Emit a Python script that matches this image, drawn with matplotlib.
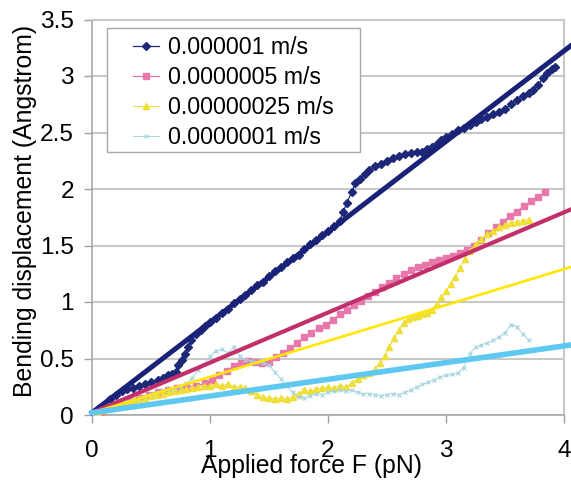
import matplotlib
matplotlib.use("Agg")
import matplotlib.pyplot as plt
from matplotlib.patches import Rectangle

plt.rcParams['font.family'] = ['Liberation Sans', 'DejaVu Sans']

# series labels
labels = ["0.000001 m/s", "0.0000005 m/s", "0.00000025 m/s", "0.0000001 m/s"]

# 0.000001 m/s (navy diamonds)
navy_x = [0.00, 0.05, 0.10, 0.15, 0.20, 0.25, 0.30, 0.35, 0.40, 0.45, 0.50, 0.56,
          0.60, 0.64, 0.68, 0.71, 0.73, 0.76, 0.79, 0.81, 0.84, 0.88, 0.92, 0.96,
          1.00, 1.05, 1.10, 1.15, 1.20, 1.25, 1.30, 1.35, 1.40, 1.45, 1.50, 1.55,
          1.60, 1.65, 1.70, 1.75, 1.80, 1.85, 1.90, 1.95, 2.00, 2.05, 2.10, 2.13,
          2.16, 2.20, 2.23, 2.27, 2.31, 2.35, 2.40, 2.45, 2.50, 2.55, 2.60, 2.65,
          2.70, 2.75, 2.80, 2.84, 2.88, 2.92, 2.96, 3.00, 3.05, 3.10, 3.15, 3.20,
          3.25, 3.30, 3.35, 3.40, 3.45, 3.50, 3.55, 3.60, 3.65, 3.70, 3.74, 3.78,
          3.82, 3.86, 3.90, 3.92]
navy_y = [0.00, 0.05, 0.09, 0.14, 0.18, 0.21, 0.23, 0.24, 0.26, 0.27, 0.29, 0.31,
          0.33, 0.35, 0.36, 0.38, 0.44, 0.49, 0.54, 0.60, 0.66, 0.72, 0.75, 0.79,
          0.82, 0.86, 0.90, 0.94, 0.99, 1.03, 1.06, 1.11, 1.15, 1.18, 1.23, 1.27,
          1.31, 1.35, 1.39, 1.42, 1.47, 1.51, 1.55, 1.59, 1.63, 1.67, 1.72, 1.80,
          1.88, 1.97, 2.05, 2.09, 2.13, 2.17, 2.20, 2.22, 2.25, 2.27, 2.29, 2.31,
          2.32, 2.33, 2.33, 2.35, 2.37, 2.40, 2.43, 2.46, 2.49, 2.52, 2.54, 2.57,
          2.59, 2.62, 2.64, 2.66, 2.68, 2.71, 2.75, 2.79, 2.82, 2.85, 2.88, 2.92,
          2.98, 3.03, 3.06, 3.08]

# 0.0000005 m/s (pink squares)
pink_x = [0.00, 0.08, 0.16, 0.24, 0.32, 0.40, 0.48, 0.56, 0.64, 0.72, 0.80, 0.88,
          0.96, 1.02, 1.08, 1.14, 1.20, 1.26, 1.32, 1.38, 1.44, 1.50, 1.56, 1.62,
          1.68, 1.74, 1.80, 1.86, 1.92, 1.98, 2.04, 2.10, 2.16, 2.22, 2.28, 2.34,
          2.40, 2.46, 2.52, 2.58, 2.64, 2.70, 2.76, 2.82, 2.88, 2.94, 3.00, 3.06,
          3.12, 3.18, 3.24, 3.30, 3.36, 3.42, 3.48, 3.54, 3.60, 3.66, 3.72, 3.78,
          3.84]
pink_y = [0.00, 0.03, 0.06, 0.09, 0.12, 0.15, 0.18, 0.20, 0.22, 0.24, 0.25, 0.26,
          0.28, 0.31, 0.35, 0.39, 0.43, 0.46, 0.48, 0.47, 0.46, 0.47, 0.51, 0.55,
          0.59, 0.64, 0.69, 0.73, 0.77, 0.80, 0.84, 0.89, 0.93, 0.97, 1.01, 1.05,
          1.09, 1.13, 1.17, 1.21, 1.25, 1.28, 1.31, 1.33, 1.35, 1.37, 1.39, 1.41,
          1.43, 1.46, 1.50, 1.55, 1.61, 1.66, 1.71, 1.76, 1.80, 1.85, 1.89, 1.93,
          1.97]

# 0.00000025 m/s (yellow triangles)
yellow_x = [0.00, 0.05, 0.10, 0.15, 0.20, 0.25, 0.30, 0.35, 0.40, 0.45, 0.50, 0.55,
            0.60, 0.65, 0.70, 0.75, 0.80, 0.85, 0.90, 0.95, 1.00, 1.05, 1.10, 1.15,
            1.20, 1.25, 1.30, 1.35, 1.40, 1.45, 1.50, 1.55, 1.60, 1.65, 1.70, 1.75,
            1.80, 1.85, 1.90, 1.95, 2.00, 2.05, 2.10, 2.15, 2.20, 2.25, 2.30, 2.35,
            2.40, 2.44, 2.48, 2.52, 2.56, 2.60, 2.64, 2.68, 2.72, 2.76, 2.80, 2.84,
            2.88, 2.92, 2.96, 3.00, 3.04, 3.08, 3.12, 3.16, 3.20, 3.25, 3.30, 3.35,
            3.40, 3.45, 3.50, 3.55, 3.60, 3.65, 3.70]
yellow_y = [0.00, 0.02, 0.04, 0.06, 0.08, 0.10, 0.11, 0.13, 0.14, 0.15, 0.17, 0.18,
            0.19, 0.20, 0.21, 0.22, 0.23, 0.24, 0.25, 0.26, 0.26, 0.27, 0.26, 0.27,
            0.25, 0.25, 0.24, 0.21, 0.18, 0.16, 0.15, 0.14, 0.15, 0.14, 0.16, 0.19,
            0.22, 0.21, 0.23, 0.24, 0.25, 0.24, 0.26, 0.25, 0.28, 0.32, 0.35, 0.37,
            0.41, 0.46, 0.52, 0.60, 0.68, 0.75, 0.81, 0.85, 0.87, 0.88, 0.89, 0.90,
            0.93, 0.98, 1.04, 1.10, 1.16, 1.22, 1.30, 1.38, 1.45, 1.51, 1.56, 1.60,
            1.63, 1.66, 1.68, 1.70, 1.71, 1.72, 1.73]

# 0.0000001 m/s (light blue crosses)
cyan_x = [0.00, 0.05, 0.10, 0.15, 0.20, 0.25, 0.30, 0.35, 0.40, 0.45, 0.50, 0.55,
          0.60, 0.65, 0.70, 0.75, 0.80, 0.85, 0.90, 0.95, 1.00, 1.05, 1.10, 1.15,
          1.20, 1.25, 1.30, 1.35, 1.40, 1.45, 1.50, 1.55, 1.60, 1.65, 1.70, 1.75,
          1.80, 1.85, 1.90, 1.95, 2.00, 2.05, 2.10, 2.15, 2.20, 2.25, 2.30, 2.35,
          2.40, 2.45, 2.50, 2.55, 2.60, 2.65, 2.70, 2.75, 2.80, 2.85, 2.90, 2.95,
          3.00, 3.05, 3.10, 3.15, 3.20, 3.25, 3.30, 3.35, 3.40, 3.45, 3.50, 3.55,
          3.60, 3.65, 3.70]
cyan_y = [0.00, 0.02, 0.04, 0.06, 0.08, 0.10, 0.12, 0.14, 0.15, 0.17, 0.19, 0.20,
          0.22, 0.23, 0.24, 0.26, 0.28, 0.33, 0.40, 0.45, 0.52, 0.57, 0.58, 0.55,
          0.60, 0.52, 0.49, 0.48, 0.47, 0.46, 0.44, 0.38, 0.32, 0.26, 0.20, 0.16,
          0.15, 0.17, 0.19, 0.18, 0.20, 0.21, 0.22, 0.21, 0.22, 0.20, 0.19, 0.19,
          0.18, 0.17, 0.18, 0.19, 0.18, 0.20, 0.22, 0.25, 0.27, 0.29, 0.31, 0.34,
          0.35, 0.36, 0.37, 0.42, 0.54, 0.60, 0.62, 0.64, 0.66, 0.69, 0.73, 0.80,
          0.78, 0.72, 0.66]

# linear trendlines (start and end values)
fit_x = [0.0, 4.06]
navy_fit = [0.02, 3.27]
pink_fit = [0.02, 1.82]
yellow_fit = [0.02, 1.31]
cyan_fit = [0.02, 0.62]

y_ticks = [0, 0.5, 1, 1.5, 2, 2.5, 3, 3.5]
y_ticklabels = ["0", "0.5", "1", "1.5", "2", "2.5", "3", "3.5"]
x_ticks = [0, 1, 2, 3, 4]

fig = plt.figure(figsize=(5.71, 4.82), dpi=100)
ax = fig.add_axes([92 / 571, 1 - 415 / 482, 472 / 571, 395.5 / 482])

h1, = ax.plot(navy_x, navy_y, color='#1e2878', lw=0.9, marker='D', ms=3.6,
              mec='#1e2878', mfc='#1e2878', label=labels[0], zorder=3)
h2, = ax.plot(pink_x, pink_y, color='#e070a6', lw=0.8, marker='s', ms=4.8,
              mec='#e878ac', mfc='#e878ac', label=labels[1], zorder=3)
h3, = ax.plot(yellow_x, yellow_y, color='#f0e040', lw=0.8, marker='^', ms=4.4,
              mec='#eedc30', mfc='#f2e23a', label=labels[2], zorder=3)
h4, = ax.plot(cyan_x, cyan_y, color='#a8d8e2', lw=0.7, marker='x', ms=3.5,
              mew=0.8, mec='#a0d4e0', label=labels[3], zorder=3)

ax.plot(fit_x, navy_fit, color='#1a2278', lw=3.6, clip_on=False, zorder=4)
ax.plot(fit_x, pink_fit, color='#c2306c', lw=3.0, clip_on=False, zorder=4)
ax.plot(fit_x, yellow_fit, color='#ffe600', lw=1.9, clip_on=False, zorder=4)
ax.plot(fit_x, cyan_fit, color='#5ec8f0', lw=4.0, clip_on=False, zorder=4)

ax.set_xlim(0, 4)
ax.set_ylim(0, 3.5)
ax.set_xticks(x_ticks)
ax.set_xticklabels([str(t) for t in x_ticks])
ax.set_yticks(y_ticks)
ax.set_yticklabels(y_ticklabels)
ax.tick_params(axis='both', labelsize=17.6, color='#a0a0a0', length=6, width=1)
ax.tick_params(axis='y', pad=7)
ax.tick_params(axis='x', pad=12)
ax.yaxis.grid(True, color='#c8c8c8', lw=1.5)
ax.set_axisbelow(True)
for side in ['left', 'bottom']:
    ax.spines[side].set_color('#a8a8a8')
    ax.spines[side].set_linewidth(1.2)
for side in ['top', 'right']:
    ax.spines[side].set_color('#c8c8c8')
    ax.spines[side].set_linewidth(1.5)

ax.set_xlabel("Applied force F (pN)", fontsize=17.8, va='center')
ax.xaxis.set_label_coords(0.464, -0.129)
ax.set_ylabel("Bending displacement (Angstrom)", fontsize=17.8, va='center')
ax.yaxis.set_label_coords(-0.142, 0.516)

# legend box drawn as a plain rectangle (Excel style, wide right padding)
ax.add_patch(Rectangle((0.032, 0.665), 0.536, 0.3135, transform=ax.transAxes,
                       facecolor='white', edgecolor='#a8a8a8', lw=1.0, zorder=5))
ax.legend(handles=[h1, h2, h3, h4], loc='upper left', bbox_to_anchor=(0.087, 0.958),
          frameon=False, fontsize=16.7, borderpad=0, borderaxespad=0,
          handlelength=1.1, handletextpad=0.4, labelspacing=0.3)

fig.savefig("out.png", dpi=100)
